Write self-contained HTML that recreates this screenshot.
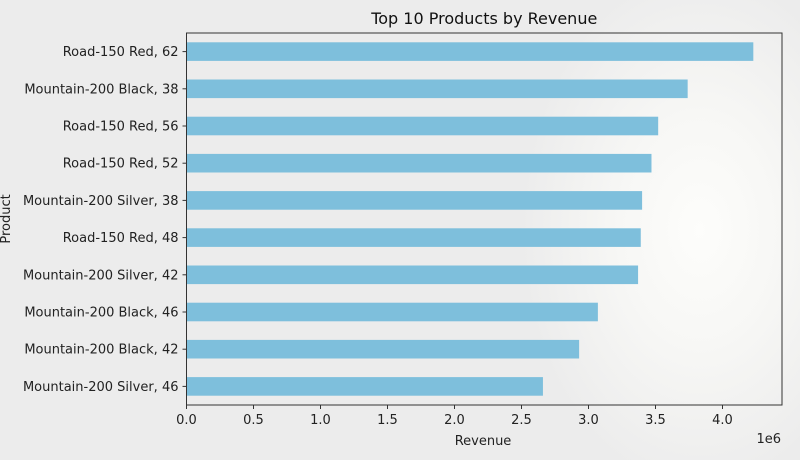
<!DOCTYPE html>
<html><head><meta charset="utf-8"><style>
body{margin:0;width:800px;height:460px;overflow:hidden;font-family:"DejaVu Sans","Liberation Sans",sans-serif;}
#bg{position:absolute;left:0;top:0;width:800px;height:460px;background:radial-gradient(ellipse 180px 260px at 700px 230px,#fdfdfb 0%,#f7f7f5 45%,#ececec 100%);}
svg{position:absolute;left:0;top:0}
</style></head><body>
<div id="bg"></div>
<svg id="chart" width="800" height="460"></svg>
<script>
const categories=["Road-150 Red, 62","Mountain-200 Black, 38","Road-150 Red, 56","Road-150 Red, 52","Mountain-200 Silver, 38","Road-150 Red, 48","Mountain-200 Silver, 42","Mountain-200 Black, 46","Mountain-200 Black, 42","Mountain-200 Silver, 46"];
const revenue=[4.23,3.74,3.52,3.47,3.40,3.39,3.37,3.07,2.93,2.66];
const tickValues=[0,0.5,1,1.5,2,2.5,3,3.5,4];
const tickLabels=["0.0","0.5","1.0","1.5","2.0","2.5","3.0","3.5","4.0"];
const svg=document.getElementById('chart');const NS="http://www.w3.org/2000/svg";
const L=186.5,T=33,R=782,B=405,K=134;
const x=v=>L+v*K;const step=(B-T)/categories.length;const y=i=>T+step*(i+0.5);
function el(t,a,txt){const e=document.createElementNS(NS,t);for(const k in a)e.setAttribute(k,a[k]);if(txt!=null)e.textContent=txt;svg.appendChild(e);return e;}
categories.forEach((c,i)=>{
const b=el('rect',{x:L,y:y(i)-step*0.25,width:x(revenue[i])-L,height:step*0.5,fill:'#7ebfdc'});


const tk=el('line',{x1:L-4,x2:L,y1:y(i),y2:y(i),stroke:'#333','stroke-width':1});


const t=el('text',{x:L-8,y:y(i)+4.5,'text-anchor':'end','font-size':13,fill:'#222'},c);


});
tickValues.forEach((v,i)=>{
const tk=el('line',{x1:x(v),x2:x(v),y1:B,y2:B+4,stroke:'#333'});


const t=el('text',{x:x(v),y:B+19,'text-anchor':'middle','font-size':13,fill:'#222'},tickLabels[i]);


});
const f=el('rect',{x:L,y:T,width:R-L,height:B-T,fill:'none',stroke:'#333','stroke-width':1});


const ti=el('text',{x:(L+R)/2,y:24,'text-anchor':'middle','font-size':16,fill:'#111'},'Top 10 Products by Revenue');


const xt=el('text',{x:483,y:445,'text-anchor':'middle','font-size':13,fill:'#222'},'Revenue');


const ex=el('text',{x:781,y:443,'text-anchor':'end','font-size':13,fill:'#222'},'1e6');


const yt=el('text',{x:10,y:(T+B)/2,'text-anchor':'middle','font-size':13,fill:'#222',transform:'rotate(-90 10 '+((T+B)/2)+')'},'Product');


</script>
</body></html>
